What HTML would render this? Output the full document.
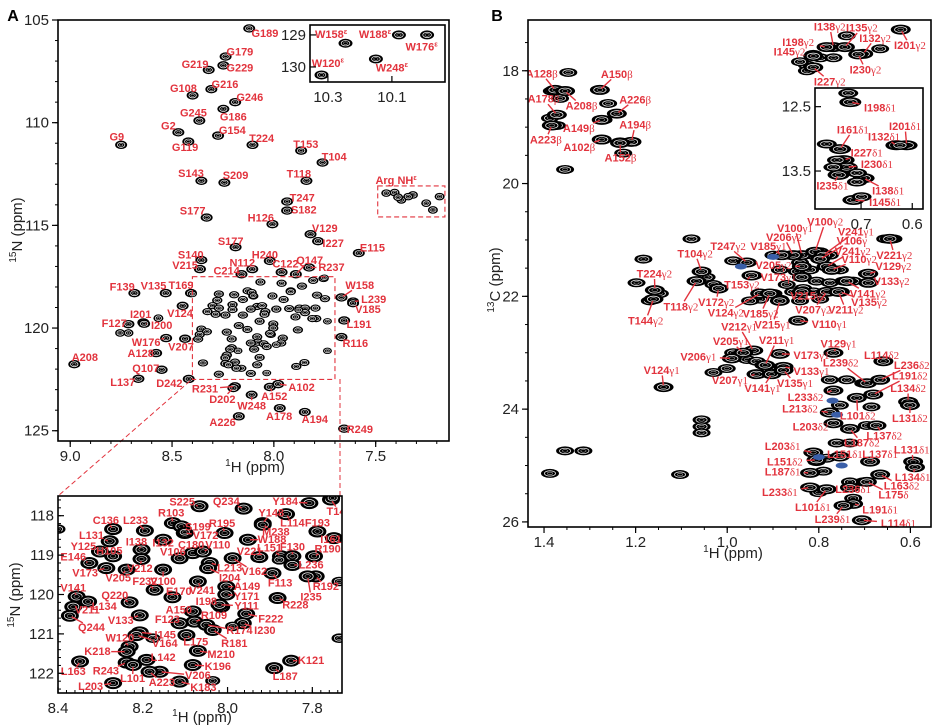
<!DOCTYPE html>
<html><head><meta charset="utf-8">
<style>
html,body{margin:0;padding:0;background:#fff;}
svg{display:block;font-family:"Liberation Sans",sans-serif;}
.tick{font-size:15px;fill:#222;}
.lab{font-size:11px;font-weight:bold;fill:#e2333d;}
.greek{font-family:"Liberation Serif","DejaVu Serif",serif;font-weight:normal;}
</style></head>
<body>
<svg id="fig" width="942" height="728" viewBox="0 0 942 728" xmlns="http://www.w3.org/2000/svg"></svg>
<script>
// ===== Panel A main (1H-15N HSQC): [label, labelH, labelN, peakH, peakN, leader]
const aMainLabels = [
["G189",8.044,105.65,8.121,105.41,0],["G179",8.167,106.54,8.237,106.78,0],["G229",8.167,107.32,8.248,107.21,0],
["G219",8.387,107.16,8.320,107.43,0],["G216",8.240,108.13,8.307,108.37,0],["G108",8.444,108.33,8.399,108.67,0],
["G246",8.118,108.76,8.190,109.0,0],["G186",8.199,109.70,8.248,109.33,0],["G245",8.395,109.51,8.366,109.90,0],
["G2",8.518,110.14,8.469,110.47,0],["G154",8.204,110.37,8.274,110.63,0],["G119",8.436,111.20,8.420,110.92,0],
["G9",8.771,110.68,8.75,111.08,0],["T224",8.060,110.76,8.105,111.08,0],["T153",7.843,111.05,7.866,111.36,0],
["T104",7.704,111.65,7.761,111.94,0],["S143",8.407,112.46,8.356,112.83,0],["S209",8.188,112.57,8.243,112.92,0],
["T118",7.877,112.49,7.840,112.83,0],["T247",7.861,113.65,7.935,113.84,0],["S182",7.853,114.23,7.935,114.28,0],
["S177",8.399,114.28,8.330,114.62,0],["H126",8.064,114.62,8.007,114.94,0],["V129",7.750,115.15,7.820,115.43,0],
["I227",7.709,115.88,7.783,115.77,0],["E115",7.516,116.08,7.583,116.35,0],["S177",8.212,115.77,8.188,116.06,0],
["S140",8.408,116.42,8.356,116.69,0],["V215",8.436,116.95,8.363,117.13,0],["H240",8.044,116.42,8.020,116.73,0],
["N112",8.155,116.81,8.106,117.13,0],["C214",8.232,117.20,8.159,117.38,0],["C122",7.943,116.86,7.962,117.28,1],
["Q147",7.824,116.69,7.892,117.38,1],["R237",7.717,117.05,7.827,117.05,1],["F139",8.745,117.98,8.685,118.30,0],
["V135",8.591,117.94,8.531,118.30,0],["T169",8.456,117.91,8.407,118.30,0],["W158",7.578,117.91,7.668,118.51,1],
["L239",7.510,118.59,7.611,118.71,1],["V185",7.538,119.08,7.611,118.79,1],["V124",8.461,119.27,8.448,118.92,0],
["I201",8.654,119.32,8.641,119.73,1],["I200",8.551,119.87,8.637,119.79,1],["F127",8.784,119.76,8.714,119.81,0],
["L191",7.582,119.81,7.655,119.63,0],["W176",8.627,120.68,8.529,120.49,1],["V207",8.456,120.90,8.436,120.52,0],
["R116",7.600,120.73,7.668,120.44,0],["A128",8.654,121.22,8.578,121.22,0],["A208",8.928,121.43,8.980,121.76,0],
["Q107",8.629,121.95,8.551,122.03,0],["L137",8.742,122.63,8.665,122.47,0],["D242",8.513,122.68,8.418,122.48,0],
["R231",8.338,122.96,8.191,122.84,1],["D202",8.253,123.46,8.199,122.92,1],["W248",8.109,123.77,8.109,123.25,1],
["A152",7.998,123.33,8.020,122.87,1],["A102",7.864,122.87,7.979,122.73,1],["A178",7.974,124.30,7.971,123.90,0],
["A194",7.799,124.43,7.848,124.09,0],["A226",8.252,124.59,8.172,124.30,0],["R249",7.578,124.92,7.655,124.90,0]
];
const aExtraH = [8.567,8.755,8.714,7.448,7.407,7.374,7.317,7.252,7.219,7.186,7.39,7.34];
const aExtraN = [119.52,120.24,120.24,113.43,113.40,113.76,113.52,113.92,114.25,113.60,113.63,113.6];
// Trp indole inset: [label, lh, ln, ph, pn]
const trpLabels = [["W158",10.29,128.98,10.245,129.26],["W188",10.153,128.98,10.078,129.0],["W176",10.007,129.37,9.99,129.0],
["W248",10.10,130.02,10.15,129.75],["W120",10.30,129.88,10.32,130.25]];
// ===== Zoomed region (8.4-7.73 / 117.5-122.5): [label, lh, ln, ph, pn]
const zoomLabels = [
["S225",8.107,117.66,8.066,117.76],["Q234",8.003,117.64,7.962,117.82],["Y184",7.864,117.64,7.807,117.68],
["T144",7.737,117.89,7.756,117.59],["R103",8.133,117.93,8.129,118.19],["S199",8.07,118.29,8.109,118.27],
["R195",8.013,118.20,8.007,118.44],["Y148",7.897,117.93,7.917,118.19],["L114",7.847,118.19,7.862,117.96],
["M238",7.886,118.42,7.917,118.23],["F193",7.788,118.19,7.788,118.40],["C136",8.287,118.12,8.27,118.34],
["L233",8.217,118.12,8.195,118.38],["L131",8.321,118.51,8.278,118.65],["V172",8.052,118.51,8.101,118.44],
["W188",7.895,118.61,7.952,118.61],["I161",7.756,118.61,7.749,118.57],["Y125",8.34,118.78,8.301,118.91],
["I138",8.215,118.67,8.203,118.86],["I132",8.152,118.69,8.152,118.61],["C180",8.086,118.74,8.082,118.95],
["V110",8.023,118.74,8.058,118.91],["R190",7.764,118.85,7.796,119.03],["L151",7.901,118.82,7.874,119.03],
["F130",7.847,118.80,7.847,119.03],["V221",7.948,118.91,7.925,119.05],["E146",8.364,119.05,8.326,119.20],
["H105",8.279,118.90,8.27,119.03],["V106",8.129,118.92,8.113,119.08],["V212",8.207,119.34,8.203,119.10],
["V173",8.336,119.46,8.286,119.33],["V205",8.258,119.58,8.238,119.37],["V100",8.152,119.67,8.152,119.37],
["L213",7.995,119.33,8.042,119.20],["V162",7.937,119.42,7.988,119.08],["I204",7.995,119.58,8.046,119.33],
["L236",7.803,119.25,7.847,119.25],["F113",7.876,119.71,7.894,119.46],["F232",8.195,119.67,8.172,119.88],
["V241",8.06,119.90,8.07,119.67],["R192",7.768,119.80,7.792,119.54],["I235",7.803,120.07,7.811,119.54],
["V141",8.364,119.84,8.356,120.05],["A149",7.954,119.80,8.003,119.80],["Q220",8.266,120.03,8.231,120.20],
["E170",8.115,119.92,8.130,120.07],["Y171",7.955,120.05,8.003,120.0],["I198",8.05,120.18,8.015,120.31],
["Y111",7.955,120.29,8.019,120.26],["R228",7.84,120.27,7.882,120.09],["L134",8.291,120.31,8.329,120.18],
["V211",8.331,120.39,8.364,120.31],["A150",8.115,120.39,8.082,120.43],["R109",8.032,120.54,8.078,120.69],
["F222",7.898,120.63,7.956,120.49],["Q244",8.321,120.84,8.372,120.54],["V133",8.252,120.66,8.207,120.53],
["F123",8.142,120.64,8.113,120.73],["I230",7.912,120.92,7.964,120.73],["R174",7.972,120.92,8.05,120.77],
["I145",8.147,121.03,8.207,120.96],["V164",8.148,121.25,8.215,121.03],["L175",8.075,121.21,8.097,121.03],
["R181",7.984,121.24,8.035,120.90],["W120",8.254,121.11,8.231,121.32],["K218",8.307,121.45,8.238,121.45],
["M210",8.015,121.52,8.07,121.43],["K121",7.803,121.68,7.85,121.68],["L142",8.152,121.60,8.191,121.66],
["K196",8.023,121.83,8.082,121.79],["L163",8.364,121.96,8.348,121.70],["R243",8.287,121.94,8.238,121.73],
["V206",8.07,122.06,8.16,121.96],["L187",7.864,122.08,7.89,121.87],["L101",8.224,122.14,8.223,121.79],
["A223",8.155,122.23,8.184,121.96],["L203",8.323,122.34,8.27,122.25],["K183",8.057,122.36,8.113,122.21]
];
const zoomExtraH = [8.40,7.752,7.737,8.035,8.101,7.737,7.878,7.988,8.176];
const zoomExtraN = [118.34,117.55,121.11,122.19,118.42,119.67,119.12,120.81,121.11];
// ===== Panel B (1H-13C methyl): [label, lh, lc, ph, pc]
const bLabels = [
["A128β",1.405,18.05,1.376,18.34],["A150β",1.241,18.06,1.278,18.34],["A178β",1.401,18.50,1.372,18.78],
["A208β",1.318,18.62,1.354,18.36],["A226β",1.201,18.51,1.241,18.76],["A149β",1.324,19.02,1.274,18.87],
["A194β",1.201,18.96,1.209,19.26],["A223β",1.396,19.22,1.383,18.97],["A102β",1.323,19.36,1.274,19.22],
["A152β",1.233,19.54,1.234,19.28],["I138γ2",0.776,17.22,0.768,17.58],["I135γ2",0.706,17.24,0.743,17.58],
["I198γ2",0.845,17.49,0.783,17.58],["I132γ2",0.677,17.42,0.703,17.70],["I145γ2",0.864,17.66,0.812,17.74],
["I201γ2",0.601,17.55,0.621,17.27],["I230γ2",0.698,17.98,0.714,17.71],["I227γ2",0.776,18.19,0.812,17.94],
["V100γ1",0.852,20.79,0.837,21.27],["V100γ2",0.786,20.68,0.808,21.21],["V206γ2",0.876,20.95,0.856,21.27],
["V241γ1",0.719,20.85,0.790,21.27],["V185γ1",0.910,21.11,0.881,21.27],["V106γ",0.728,21.01,0.797,21.34],
["T247γ2",0.998,21.11,0.957,21.40],["V241γ2",0.726,21.20,0.783,21.47],["T104γ2",1.070,21.24,1.056,21.56],
["V110γ2",0.712,21.34,0.772,21.53],["V221γ2",0.635,21.27,0.645,20.98],["V205γ2",0.899,21.45,0.837,21.47],
["V129γ2",0.637,21.47,0.692,21.60],["V173γ1",0.888,21.66,0.837,21.66],["T224γ2",1.159,21.60,1.158,21.89],
["V133γ2",0.641,21.73,0.692,21.76],["T153γ2",0.968,21.79,0.947,21.63],["V141γ2",0.693,21.95,0.739,21.73],
["V215γ2",0.823,21.99,0.837,21.92],["V135γ2",0.690,22.10,0.754,21.92],["T118γ2",1.101,22.18,1.067,21.73],
["V172γ2",1.024,22.10,1.019,21.86],["V124γ2",1.003,22.29,0.928,21.95],["V207γ2",0.812,22.24,0.783,21.92],
["V211γ2",0.741,22.24,0.757,21.92],["T144γ2",1.178,22.43,1.161,22.05],["V185γ2",0.927,22.31,0.907,21.95],
["V212γ1",0.974,22.54,0.943,22.96],["V215γ1",0.901,22.50,0.885,22.08],["V110γ1",0.777,22.49,0.845,22.43],
["V205γ1",0.992,22.80,0.965,23.0],["V211γ1",0.892,22.78,0.917,23.22],["V129γ1",0.757,22.84,0.768,23.0],
["V206γ1",1.063,23.07,0.990,23.10],["V173γ1",0.816,23.04,0.885,23.02],["L114δ2",0.663,23.04,0.659,23.15],
["V124γ1",1.143,23.31,1.139,23.61],["V133γ1",0.816,23.33,0.877,23.25],["L239δ2",0.752,23.18,0.695,23.54],
["L236δ2",0.597,23.22,0.666,23.48],["V207γ1",0.994,23.49,0.936,23.38],["L191δ2",0.601,23.41,0.681,23.74],
["V141γ1",0.923,23.63,0.903,23.38],["V135γ1",0.852,23.54,0.877,23.31],["L134δ2",0.605,23.63,0.605,23.87],
["L233δ2",0.829,23.79,0.768,23.67],["L213δ2",0.841,23.99,0.776,24.06],["L101δ2",0.715,24.12,0.717,23.80],
["L131δ2",0.601,24.16,0.601,23.93],["L203δ2",0.818,24.31,0.768,24.25],["L137δ2",0.657,24.47,0.674,24.29],
["L187δ2",0.706,24.60,0.732,24.35],["L203δ1",0.879,24.66,0.812,24.77],["L151δ1",0.743,24.80,0.754,24.84],
["L137δ1",0.666,24.80,0.688,24.93],["L131δ1",0.597,24.72,0.594,24.93],["L151δ2",0.874,24.93,0.805,24.90],
["L187δ1",0.879,25.11,0.819,25.13],["L134δ1",0.595,25.21,0.590,25.03],["L163δ2",0.619,25.36,0.666,25.16],
["L233δ1",0.885,25.47,0.819,25.39],["L236δ1",0.725,25.42,0.732,25.39],["L175δ",0.637,25.52,0.695,25.29],
["L101δ1",0.813,25.74,0.783,25.42],["L191δ1",0.666,25.78,0.725,25.68],["L239δ1",0.770,25.95,0.746,25.71],
["L114δ1",0.626,26.02,0.706,25.97]
];
const bExtraH = [0.899,0.863,0.841,0.812,0.797,0.776,0.885,0.848,0.819,0.783,0.754,0.870,0.834,0.805,0.776,0.746,0.725,0.856,0.812,0.776,0.754,0.841,0.797,0.655,0.637,0.695,0.692,
1.056,1.067,1.045,1.030,1.019,0.957,0.943,0.987,1.158,1.147,1.169,1.183,1.198,1.078,0.899,0.885,0.928,0.950,0.845,0.987,1.001,0.957,0.936,0.921,0.885,0.877,0.907,1.030,1.139,0.768,
0.776,0.739,0.703,0.768,0.717,0.681,0.666,0.659,0.776,0.754,0.685,0.768,0.732,0.674,0.695,0.601,0.812,0.805,0.783,0.819,0.790,0.688,0.594,0.666,0.703,0.732,0.819,0.783,0.801,0.746,0.725,0.706,0.761,0.732,
0.812,0.776,0.826,0.841,0.797,0.768,0.739,0.714,0.666,0.621,0.826,
1.347,1.383,1.354,1.365,1.372,1.387,1.372,1.354,1.278,1.260,1.241,1.270,1.274,1.234,1.209,1.227,
1.056,1.056,1.056,1.354,1.314,1.387,1.103];
const bExtraC = [21.27,21.27,21.40,21.27,21.21,21.27,21.53,21.56,21.53,21.47,21.53,21.79,21.86,21.73,21.76,21.73,21.73,21.92,21.92,21.92,21.92,22.08,22.05,20.98,20.98,21.60,21.76,
21.56,21.73,21.66,21.79,21.86,21.40,21.63,21.37,21.89,21.95,22.08,21.34,21.76,20.98,21.95,22.05,22.05,22.08,22.43,23.0,23.28,23.12,23.15,23.22,23.02,23.25,23.31,23.35,23.61,23.0,
23.48,23.48,23.54,23.67,23.80,23.74,23.48,23.15,24.06,23.93,23.96,24.25,24.35,24.29,24.29,23.90,24.77,24.93,24.87,25.13,25.10,24.93,24.93,25.16,25.29,25.29,25.39,25.42,25.48,25.71,25.58,25.97,24.60,24.60,
17.71,17.58,17.90,17.84,17.77,17.77,17.38,17.70,17.61,17.27,18.0,
18.03,18.36,18.36,18.49,18.78,18.84,18.97,19.75,18.34,18.58,18.76,18.87,19.22,19.26,19.26,19.46,
24.19,24.31,24.42,24.74,24.74,25.14,25.16];
// Ile δ1 inset
const ileLabels = [["I198δ1",0.663,12.52,0.721,12.43],["I161δ1",0.716,12.86,0.741,13.16],["I201δ1",0.614,12.81,0.611,13.10],
["I132δ1",0.655,12.97,0.631,13.10],["I227δ1",0.689,13.22,0.734,13.33],["I230δ1",0.669,13.40,0.728,13.44],
["I235δ1",0.756,13.73,0.744,13.56],["I138δ1",0.647,13.81,0.695,13.61],["I145δ1",0.653,13.99,0.715,13.95]];
const ileExtraH = [0.725,0.767,0.747,0.754,0.708,0.708,0.624,0.699];
const ileExtraC = [12.29,13.08,13.33,13.44,13.53,13.67,13.10,13.90];
// tick label arrays
const aXTicks = [9.0,8.5,8.0,7.5], aYTicks = [105,110,115,120,125];
const zXTicks = [8.4,8.2,8.0,7.8], zYTicks = [118,119,120,121,122];
const bXTicks = [1.4,1.2,1.0,0.8,0.6], bYTicks = [18,20,22,24,26];
const trpXTicks = [10.3,10.1], trpYTicks = [129,130];
const ileXTicks = [0.7,0.6], ileYTicks = [12.5,13.5];

const NS="http://www.w3.org/2000/svg";
const svg=document.getElementById('fig');
function el(tag,attrs,parent){const e=document.createElementNS(NS,tag);for(const k in attrs)e.setAttribute(k,attrs[k]);(parent||svg).appendChild(e);return e;}
const RED="#e2333d";

function axes(box,xr,yr){
  return {sx:h=>box.x+(xr[0]-h)/(xr[0]-xr[1])*box.w, sy:v=>box.y+(v-yr[0])/(yr[1]-yr[0])*box.h, box, xr, yr};
}
function frame(ax,name,xt,yt,minX,minY,inward,fmtX,fmtY){
  const b=ax.box;
  const g=el('g',{});
  
  
  const dir=inward?-1:1;
  const lo=Math.min(ax.xr[0],ax.xr[1]), hi=Math.max(ax.xr[0],ax.xr[1]);
  if(minX){for(let v=Math.ceil(lo/minX-1e-6)*minX; v<=hi+1e-9; v+=minX){const x=ax.sx(v);el('line',{x1:x,x2:x,y1:b.y+b.h,y2:b.y+b.h+dir*3,stroke:'#000','stroke-width':1},g);}}
  xt.forEach(v=>{const x=ax.sx(v);el('line',{x1:x,x2:x,y1:b.y+b.h,y2:b.y+b.h+dir*6,stroke:'#000','stroke-width':1.2},g);
    const t=el('text',{x:x,y:b.y+b.h+20,'text-anchor':'middle',class:'tick'},g);t.textContent=fmtX(v);
    
    });
  const ylo=Math.min(ax.yr[0],ax.yr[1]), yhi=Math.max(ax.yr[0],ax.yr[1]);
  if(minY){for(let v=Math.ceil(ylo/minY-1e-6)*minY; v<=yhi+1e-9; v+=minY){const y=ax.sy(v);el('line',{x1:b.x,x2:b.x-dir*3,y1:y,y2:y,stroke:'#000','stroke-width':1},g);}}
  yt.forEach(v=>{const y=ax.sy(v);el('line',{x1:b.x,x2:b.x-dir*6,y1:y,y2:y,stroke:'#000','stroke-width':1.2},g);
    const t=el('text',{x:b.x-(inward?4:9),y:y+5,'text-anchor':'end',class:'tick'},g);t.textContent=fmtY(v);
    
    });
  const r=el('rect',{x:b.x,y:b.y,width:b.w,height:b.h,fill:'none',stroke:'#000','stroke-width':1.6},g);
  
  
}
function clipFor(ax,id){const cp=el('clipPath',{id:id});el('rect',{x:ax.box.x,y:ax.box.y,width:ax.box.w,height:ax.box.h},cp);return 'url(#'+id+')';}
function peak(g,x,y,rx,ry,color){
  const p=el('g',{},g);
  
  
  el('ellipse',{cx:x,cy:y,rx:rx,ry:ry,fill:color||'#000'},p);
  el('ellipse',{cx:x,cy:y,rx:rx*0.62,ry:ry*0.6,fill:'none',stroke:'#fff','stroke-width':0.7},p);
  el('ellipse',{cx:x,cy:y,rx:rx*0.3,ry:ry*0.3,fill:'none',stroke:'#ddd','stroke-width':0.5},p);
}
function label(g,ax,txt,lh,ln,ph,pn,leader,fs,sup){
  const lx=ax.sx(lh), ly=ax.sy(ln), px=ax.sx(ph), py=ax.sy(pn);
  const m=txt.match(/^([A-Z]\d+)(.*)$/);
  const w=txt.length*fs*0.31+2, hh=fs*0.5;
  const dx=px-lx, dy=py-ly, d=Math.hypot(dx,dy);
  if(leader && d>hh+4){
    const ux=dx/d, uy=dy/d;
    const r=Math.min(Math.abs(ux)>1e-3?w/Math.abs(ux):1e9, Math.abs(uy)>1e-3?hh/Math.abs(uy):1e9);
    if(r<d-2){
      const ln_=el('line',{x1:lx+ux*r,y1:ly+uy*r,x2:px-ux*2,y2:py-uy*2,stroke:RED,'stroke-width':1.4},g);
      
      
    }
  }
  const t=el('text',{x:lx,y:ly+fs*0.36,'text-anchor':'middle',class:'lab','font-size':fs},g);
  
  
  const a=el('tspan',{},t);a.textContent=m?m[1]:txt;
  if(sup){const s=el('tspan',{'font-size':fs*0.7,dy:-fs*0.4},t);s.textContent='ε';}
  else if(m&&m[2]){const s=el('tspan',{class:'greek'},t);s.textContent=m[2];}
}
function txt(x,y,s,attrs,name){const t=el('text',Object.assign({x:x,y:y},attrs));t.innerHTML=s;
  
  return t;}

const A=axes({x:58,y:20,w:391,h:421},[9.06,7.14],[105,125.5]);
const Z=axes({x:58,y:496,w:284,h:197},[8.4,7.73],[117.5,122.5]);
const T=axes({x:310,y:25,w:135,h:57},[10.356,9.934],[128.69,130.47]);
const B=axes({x:528,y:20,w:403,h:507},[1.435,0.555],[17.1,26.09]);
const I=axes({x:815,y:88,w:108,h:121},[0.79,0.579],[12.21,14.09]);

// ---------- Panel A main ----------
const gA=el('g',{'clip-path':clipFor(A,'cA')});


aMainLabels.forEach(r=>peak(gA,A.sx(r[3]),A.sy(r[4]),6,4.2));
aExtraH.forEach((h,i)=>peak(gA,A.sx(h),A.sy(aExtraN[i]),5,3.8));
zoomLabels.forEach(r=>{if(r[3]<=8.4&&r[3]>=7.7)peak(gA,A.sx(r[3]),A.sy(r[4]),5.2,3.6);});
zoomExtraH.forEach((h,i)=>peak(gA,A.sx(h),A.sy(zoomExtraN[i]),4.5,3.2));
aMainLabels.forEach(r=>label(gA,A,r[0],r[1],r[2],r[3],r[4],r[5],10.5,false));
txt(A.sx(7.40),A.sy(112.79)+4,'Arg NH<tspan font-size="7" dy="-4">ε</tspan>',{class:'lab','font-size':10.5,'text-anchor':'middle'},'arg-nh-label');
const dz=el('rect',{x:A.sx(8.4),y:A.sy(117.5),width:A.sx(7.7)-A.sx(8.4),height:A.sy(122.5)-A.sy(117.5),fill:'none',stroke:RED,'stroke-width':1.1,'stroke-dasharray':'5,3'});


const da=el('rect',{x:A.sx(7.49),y:A.sy(113.08),width:A.sx(7.16)-A.sx(7.49),height:A.sy(114.59)-A.sy(113.08),fill:'none',stroke:RED,'stroke-width':1.1,'stroke-dasharray':'5,3'});


const c1=el('line',{x1:190,y1:381,x2:58,y2:496,stroke:RED,'stroke-width':1,'stroke-dasharray':'5,3'});


const c2=el('line',{x1:340,y1:379,x2:340,y2:496,stroke:RED,'stroke-width':1,'stroke-dasharray':'5,3'});


frame(A,'panel-a',aXTicks,aYTicks,0.1,1,false,v=>v.toFixed(1),v=>String(v));

// Trp inset
const tbg=el('rect',{x:T.box.x,y:T.box.y,width:T.box.w,height:T.box.h,fill:'#fff'});


const gT=el('g',{'clip-path':clipFor(T,'cT')});


trpLabels.forEach(r=>peak(gT,T.sx(r[3]),T.sy(r[4]),7,4.5));
trpLabels.forEach(r=>label(gT,T,r[0],r[1],r[2],r[3],r[4],0,10.5,true));
frame(T,'trp-inset',trpXTicks,trpYTicks,0,0,true,v=>v.toFixed(1),v=>String(v));

// ---------- Zoom panel ----------
const gZ=el('g',{'clip-path':clipFor(Z,'cZ')});


zoomLabels.forEach(r=>peak(gZ,Z.sx(r[3]),Z.sy(r[4]),9,6));
zoomExtraH.forEach((h,i)=>peak(gZ,Z.sx(h),Z.sy(zoomExtraN[i]),7.5,4.8));
zoomLabels.forEach(r=>label(gZ,Z,r[0],r[1],r[2],r[3],r[4],1,9.5,false));
frame(Z,'zoom',zXTicks,zYTicks,0.02,0.2,true,v=>v.toFixed(1),v=>String(v));

// ---------- Panel B ----------
const gB=el('g',{'clip-path':clipFor(B,'cB')});


bExtraH.forEach((h,i)=>peak(gB,B.sx(h),B.sy(bExtraC[i]),9,4.5));
bLabels.forEach(r=>peak(gB,B.sx(r[3]),B.sy(r[4]),10,5));
[[0.97,21.47],[0.90,21.30],[0.77,23.85],[0.76,24.10],[0.80,24.85],[0.75,25.0]].forEach(p=>{const e=el('ellipse',{cx:B.sx(p[0]),cy:B.sy(p[1]),rx:6,ry:3,fill:'#3a5fa8'},gB);});
bLabels.forEach(r=>label(gB,B,r[0],r[1],r[2],r[3],r[4],1,10.5,false));
frame(B,'panel-b',bXTicks,bYTicks,0.05,0.5,false,v=>v.toFixed(1),v=>String(v));

// Ile inset
const ibg=el('rect',{x:I.box.x,y:I.box.y,width:I.box.w,height:I.box.h,fill:'#fff'});


const gI=el('g',{'clip-path':clipFor(I,'cI')});


ileLabels.forEach(r=>peak(gI,I.sx(r[3]),I.sy(r[4]),11,5));
ileExtraH.forEach((h,i)=>peak(gI,I.sx(h),I.sy(ileExtraC[i]),10,4.5));
ileLabels.forEach(r=>label(gI,I,r[0],r[1],r[2],r[3],r[4],1,10,false));
frame(I,'ile-inset',ileXTicks,ileYTicks,0,0,true,v=>v.toFixed(1),v=>v.toFixed(1));

// ---------- titles ----------
txt(13,21,'A',{'font-size':16,'font-weight':'bold','text-anchor':'middle'},'panel-a-letter');
txt(497,21,'B',{'font-size':16,'font-weight':'bold','text-anchor':'middle'},'panel-b-letter');
txt(255,472,'<tspan font-size="10" dy="-6">1</tspan><tspan dy="6">H (ppm)</tspan>',{'font-size':15,'text-anchor':'middle',fill:'#222'},'panel-a-x-title');
txt(202,722,'<tspan font-size="10" dy="-6">1</tspan><tspan dy="6">H (ppm)</tspan>',{'font-size':15,'text-anchor':'middle',fill:'#222'},'zoom-x-title');
txt(733,558,'<tspan font-size="10" dy="-6">1</tspan><tspan dy="6">H (ppm)</tspan>',{'font-size':15,'text-anchor':'middle',fill:'#222'},'panel-b-x-title');
txt(0,0,'<tspan font-size="10" dy="-6">15</tspan><tspan dy="6">N (ppm)</tspan>',{'font-size':15,'text-anchor':'middle',fill:'#222',transform:'translate(22,230) rotate(-90)'},'panel-a-y-title');
txt(0,0,'<tspan font-size="10" dy="-6">15</tspan><tspan dy="6">N (ppm)</tspan>',{'font-size':15,'text-anchor':'middle',fill:'#222',transform:'translate(20,595) rotate(-90)'},'zoom-y-title');
txt(0,0,'<tspan font-size="10" dy="-6">13</tspan><tspan dy="6">C (ppm)</tspan>',{'font-size':15,'text-anchor':'middle',fill:'#222',transform:'translate(500,280) rotate(-90)'},'panel-b-y-title');
</script>
</body></html>
